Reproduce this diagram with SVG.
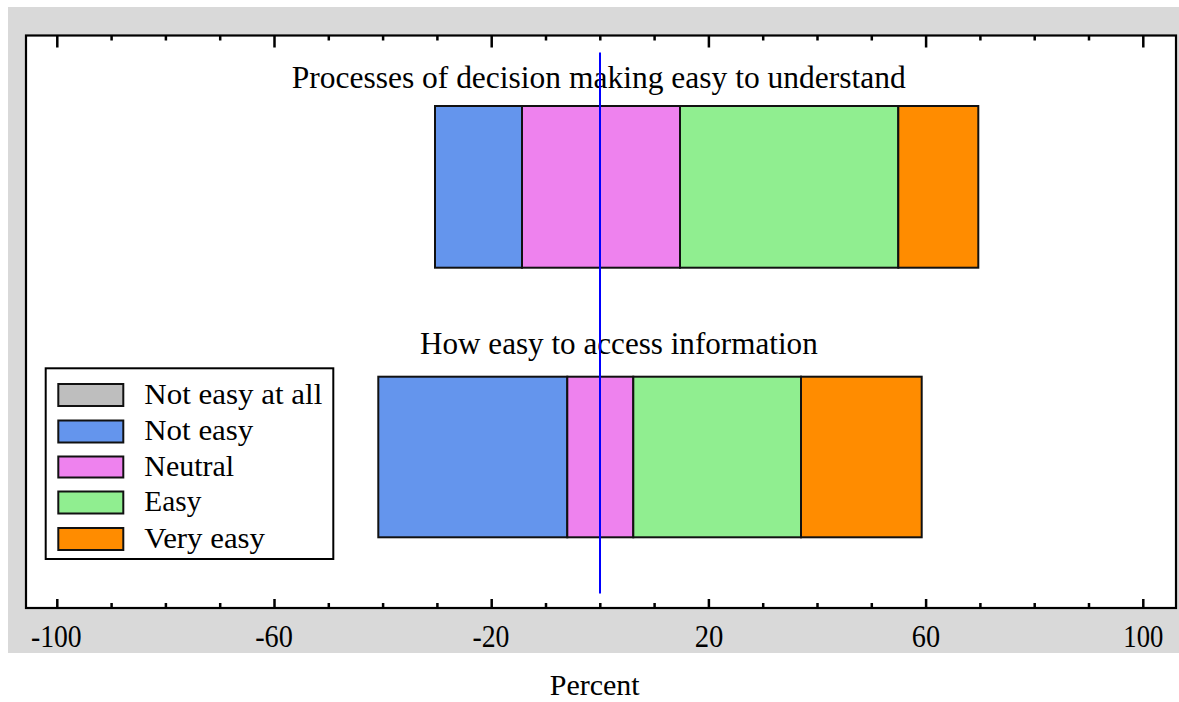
<svg xmlns="http://www.w3.org/2000/svg" width="1179" height="702" viewBox="0 0 1179 702">
<style>
text{font-family:"Liberation Serif","Times New Roman",serif;fill:#000}
.tl{font-size:32px;text-anchor:middle}
.lg{font-size:30px}
.ti{font-size:32px}
.seg{stroke:#111;stroke-width:2}
.tk{stroke:#000;stroke-width:2.5}
</style>
<rect x="0" y="0" width="1179" height="702" fill="#ffffff"/>
<rect x="8" y="7" width="1171" height="646" fill="#d9d9d9"/>
<rect id="plot-area" x="26" y="35.5" width="1150" height="572.5" fill="#ffffff" stroke="#000" stroke-width="2.2"/>
<g id="ticks" class="tk">
<path d="M57.3 599V608M111.6 603V608M165.9 603V608M220.2 603V608M274.5 599V608M328.8 603V608M383.1 603V608M437.4 603V608M491.7 599V608M546 603V608M600.3 603V608M654.6 603V608M708.9 599V608M763.2 603V608M817.5 603V608M871.8 603V608M926.1 599V608M980.4 603V608M1034.7 603V608M1089 603V608M1143.3 599V608"/>
<path d="M57.3 36V47.5M111.6 36V40.5M165.9 36V40.5M220.2 36V40.5M274.5 36V47.5M328.8 36V40.5M383.1 36V40.5M437.4 36V40.5M491.7 36V47.5M546 36V40.5M600.3 36V40.5M654.6 36V40.5M708.9 36V47.5M763.2 36V40.5M817.5 36V40.5M871.8 36V40.5M926.1 36V47.5M980.4 36V40.5M1034.7 36V40.5M1089 36V40.5M1143.3 36V47.5"/>
</g>
<g id="tick-labels">
<text class="tl" x="56.3" y="646.5" textLength="50.7" lengthAdjust="spacingAndGlyphs">-100</text>
<text class="tl" x="274" y="646.5" textLength="37.7" lengthAdjust="spacingAndGlyphs">-60</text>
<text class="tl" x="491" y="646.5" textLength="37" lengthAdjust="spacingAndGlyphs">-20</text>
<text class="tl" x="709" y="646.5" textLength="28.7" lengthAdjust="spacingAndGlyphs">20</text>
<text class="tl" x="926" y="646.5" textLength="28.3" lengthAdjust="spacingAndGlyphs">60</text>
<text class="tl" x="1143.3" y="646.5" textLength="40" lengthAdjust="spacingAndGlyphs">100</text>
</g>
<text id="x-title" x="594.7" y="695" text-anchor="middle" style="font-size:30px">Percent</text>
<g id="bar-processes">
<text class="ti" x="291.7" y="88" textLength="614" lengthAdjust="spacingAndGlyphs">Processes of decision making easy to understand</text>
<rect class="seg" x="435" y="106" width="87" height="161.7" fill="#6495ed"/>
<rect class="seg" x="522" y="106" width="158" height="161.7" fill="#ee82ee"/>
<rect class="seg" x="680" y="106" width="218.3" height="161.7" fill="#90ee90"/>
<rect class="seg" x="898.3" y="106" width="80" height="161.7" fill="#ff8c00"/>
</g>
<g id="bar-access">
<text class="ti" x="420" y="354" textLength="397.7" lengthAdjust="spacingAndGlyphs">How easy to access information</text>
<rect class="seg" x="378.3" y="376.7" width="189" height="160.6" fill="#6495ed"/>
<rect class="seg" x="567.3" y="376.7" width="66" height="160.6" fill="#ee82ee"/>
<rect class="seg" x="633.3" y="376.7" width="167.7" height="160.6" fill="#90ee90"/>
<rect class="seg" x="801" y="376.7" width="120.7" height="160.6" fill="#ff8c00"/>
</g>
<g id="connectors">
<line id="zero-line" x1="600" y1="52.5" x2="600" y2="593.5" stroke="#0000ff" stroke-width="2"/>
</g>
<g id="legend">
<rect x="45.7" y="368.3" width="287.6" height="190.7" fill="#ffffff" stroke="#000" stroke-width="2"/>
<rect class="seg" x="58.3" y="384" width="65" height="22" fill="#bebebe"/>
<rect class="seg" x="58.3" y="420.5" width="65" height="22" fill="#6495ed"/>
<rect class="seg" x="58.3" y="456.5" width="65" height="21" fill="#ee82ee"/>
<rect class="seg" x="58.3" y="491.5" width="65" height="22" fill="#90ee90"/>
<rect class="seg" x="58.3" y="528" width="65" height="22" fill="#ff8c00"/>
<text class="lg" x="144.3" y="403.5" textLength="178" lengthAdjust="spacingAndGlyphs">Not easy at all</text>
<text class="lg" x="144.3" y="440" textLength="109" lengthAdjust="spacingAndGlyphs">Not easy</text>
<text class="lg" x="144.3" y="476" textLength="89.7" lengthAdjust="spacingAndGlyphs">Neutral</text>
<text class="lg" x="144.3" y="511" textLength="57" lengthAdjust="spacingAndGlyphs">Easy</text>
<text class="lg" x="144.3" y="548" textLength="120.7" lengthAdjust="spacingAndGlyphs">Very easy</text>
</g>
</svg>
